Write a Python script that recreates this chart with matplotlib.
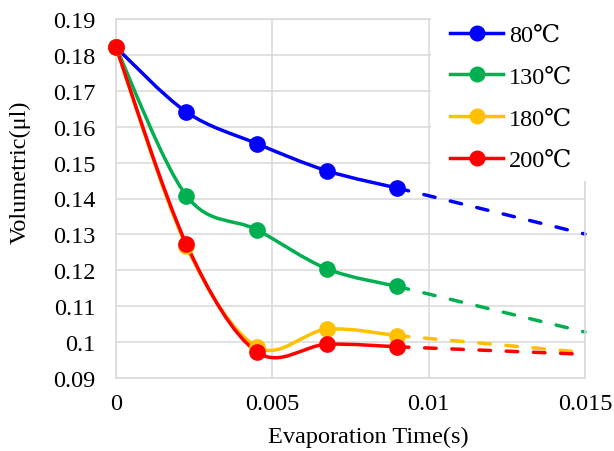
import matplotlib
matplotlib.use('Agg')
import matplotlib.pyplot as plt
from matplotlib.path import Path
from matplotlib.patches import PathPatch, Rectangle
from matplotlib.lines import Line2D

# ---- data ----
times = [0, 0.00225, 0.0045, 0.00675, 0.009]
forecast_end_time = 0.015
series_labels = ['80℃', '130℃', '180℃', '200℃']
v80 = [0.1821, 0.1641, 0.1553, 0.1477, 0.1429]
v130 = [0.1821, 0.1408, 0.1313, 0.1204, 0.1155]
v180 = [0.1821, 0.1268, 0.0987, 0.1036, 0.1018]
v200 = [0.1821, 0.1273, 0.0973, 0.0994, 0.0987]
forecast_end_vals = [0.1301, 0.1028, 0.0971, 0.0966]
x_ticks = [0, 0.005, 0.01, 0.015]
x_tick_labels = ['0', '0.005', '0.01', '0.015']
y_ticks = [0.09, 0.10, 0.11, 0.12, 0.13, 0.14, 0.15, 0.16, 0.17, 0.18, 0.19]
y_tick_labels = ['0.09', '0.1', '0.11', '0.12', '0.13', '0.14', '0.15', '0.16', '0.17', '0.18', '0.19']

colors = ['#0000FF', '#00B050', '#FFC000', '#FF0000']
FS = 17.5
FAM = ['Liberation Serif', 'DejaVu Serif']
plt.rcParams['font.family'] = FAM
plt.rcParams['lines.scale_dashes'] = False

W, H = 614, 452
fig = plt.figure(figsize=(W / 100, H / 100), dpi=100)
ax = fig.add_axes([116 / W, 1 - 379 / H, (585 - 116) / W, (379 - 20) / H])


def smooth_path(xs, ys):
    pts = list(zip(xs, ys))
    n = len(pts)
    verts = [pts[0]]
    codes = [Path.MOVETO]
    for i in range(n - 1):
        p0 = pts[max(i - 1, 0)]
        p1 = pts[i]
        p2 = pts[i + 1]
        p3 = pts[min(i + 2, n - 1)]
        c1 = (p1[0] + (p2[0] - p0[0]) / 6, p1[1] + (p2[1] - p0[1]) / 6)
        c2 = (p2[0] - (p3[0] - p1[0]) / 6, p2[1] - (p3[1] - p1[1]) / 6)
        verts += [c1, c2, p2]
        codes += [Path.CURVE4] * 3
    return Path(verts, codes)


all_series = [v80, v130, v180, v200]
LW = 2.5
for vals, col, endv in zip(all_series, colors, forecast_end_vals):
    ax.plot([times[-1], forecast_end_time], [vals[-1], endv], color=col, lw=LW,
            dashes=(8.3, 11.3), dash_capstyle='round', zorder=2, clip_on=False)
for vals, col in zip(all_series, colors):
    patch = PathPatch(smooth_path(times, vals), facecolor='none', edgecolor=col,
                      lw=LW, capstyle='round', joinstyle='round', zorder=3)
    ax.add_patch(patch)
    ax.plot(times, vals, linestyle='none', marker='o', ms=11, color=col, zorder=4,
            clip_on=False)

ax.set_xlim(0, 0.015)
ax.set_ylim(0.09, 0.19)
ax.set_xticks(x_ticks)
ax.set_xticklabels(x_tick_labels)
ax.set_yticks(y_ticks)
ax.set_yticklabels(y_tick_labels)
ax.tick_params(axis='both', length=0, labelsize=FS, colors='black')
ax.tick_params(axis='x', pad=11)
ax.tick_params(axis='y', pad=15)
ax.grid(True, color='#D9D9D9', lw=1.1, zorder=0)
ax.set_axisbelow(True)
for sp in ax.spines.values():
    sp.set_color('#D9D9D9')
    sp.set_linewidth(1.1)

fig.text(368 / W, 1 - 437 / H, 'Evaporation Time(s)', ha='center', va='center', fontsize=FS)
fig.text(20 / W, 1 - 172 / H, 'Volumetric(μl)', ha='center', va='center', rotation=90, fontsize=FS)

fig.add_artist(Rectangle((431 / W, 1 - 182 / H), 1, 1, transform=fig.transFigure,
                         facecolor='white', edgecolor='none', zorder=2))

handles = [Line2D([], [], color=c, lw=LW, marker='o', ms=10.5) for c in colors]
leg = fig.legend(handles, series_labels, loc='upper left',
                 bbox_to_anchor=(450 / W, 1 - 25 / H), frameon=False,
                 handlelength=2.2, handletextpad=0.22, labelspacing=0.81,
                 borderpad=0, borderaxespad=0, prop={'family': FAM, 'size': FS})
leg.set_zorder(5)

fig.savefig('out.png', dpi=100)
